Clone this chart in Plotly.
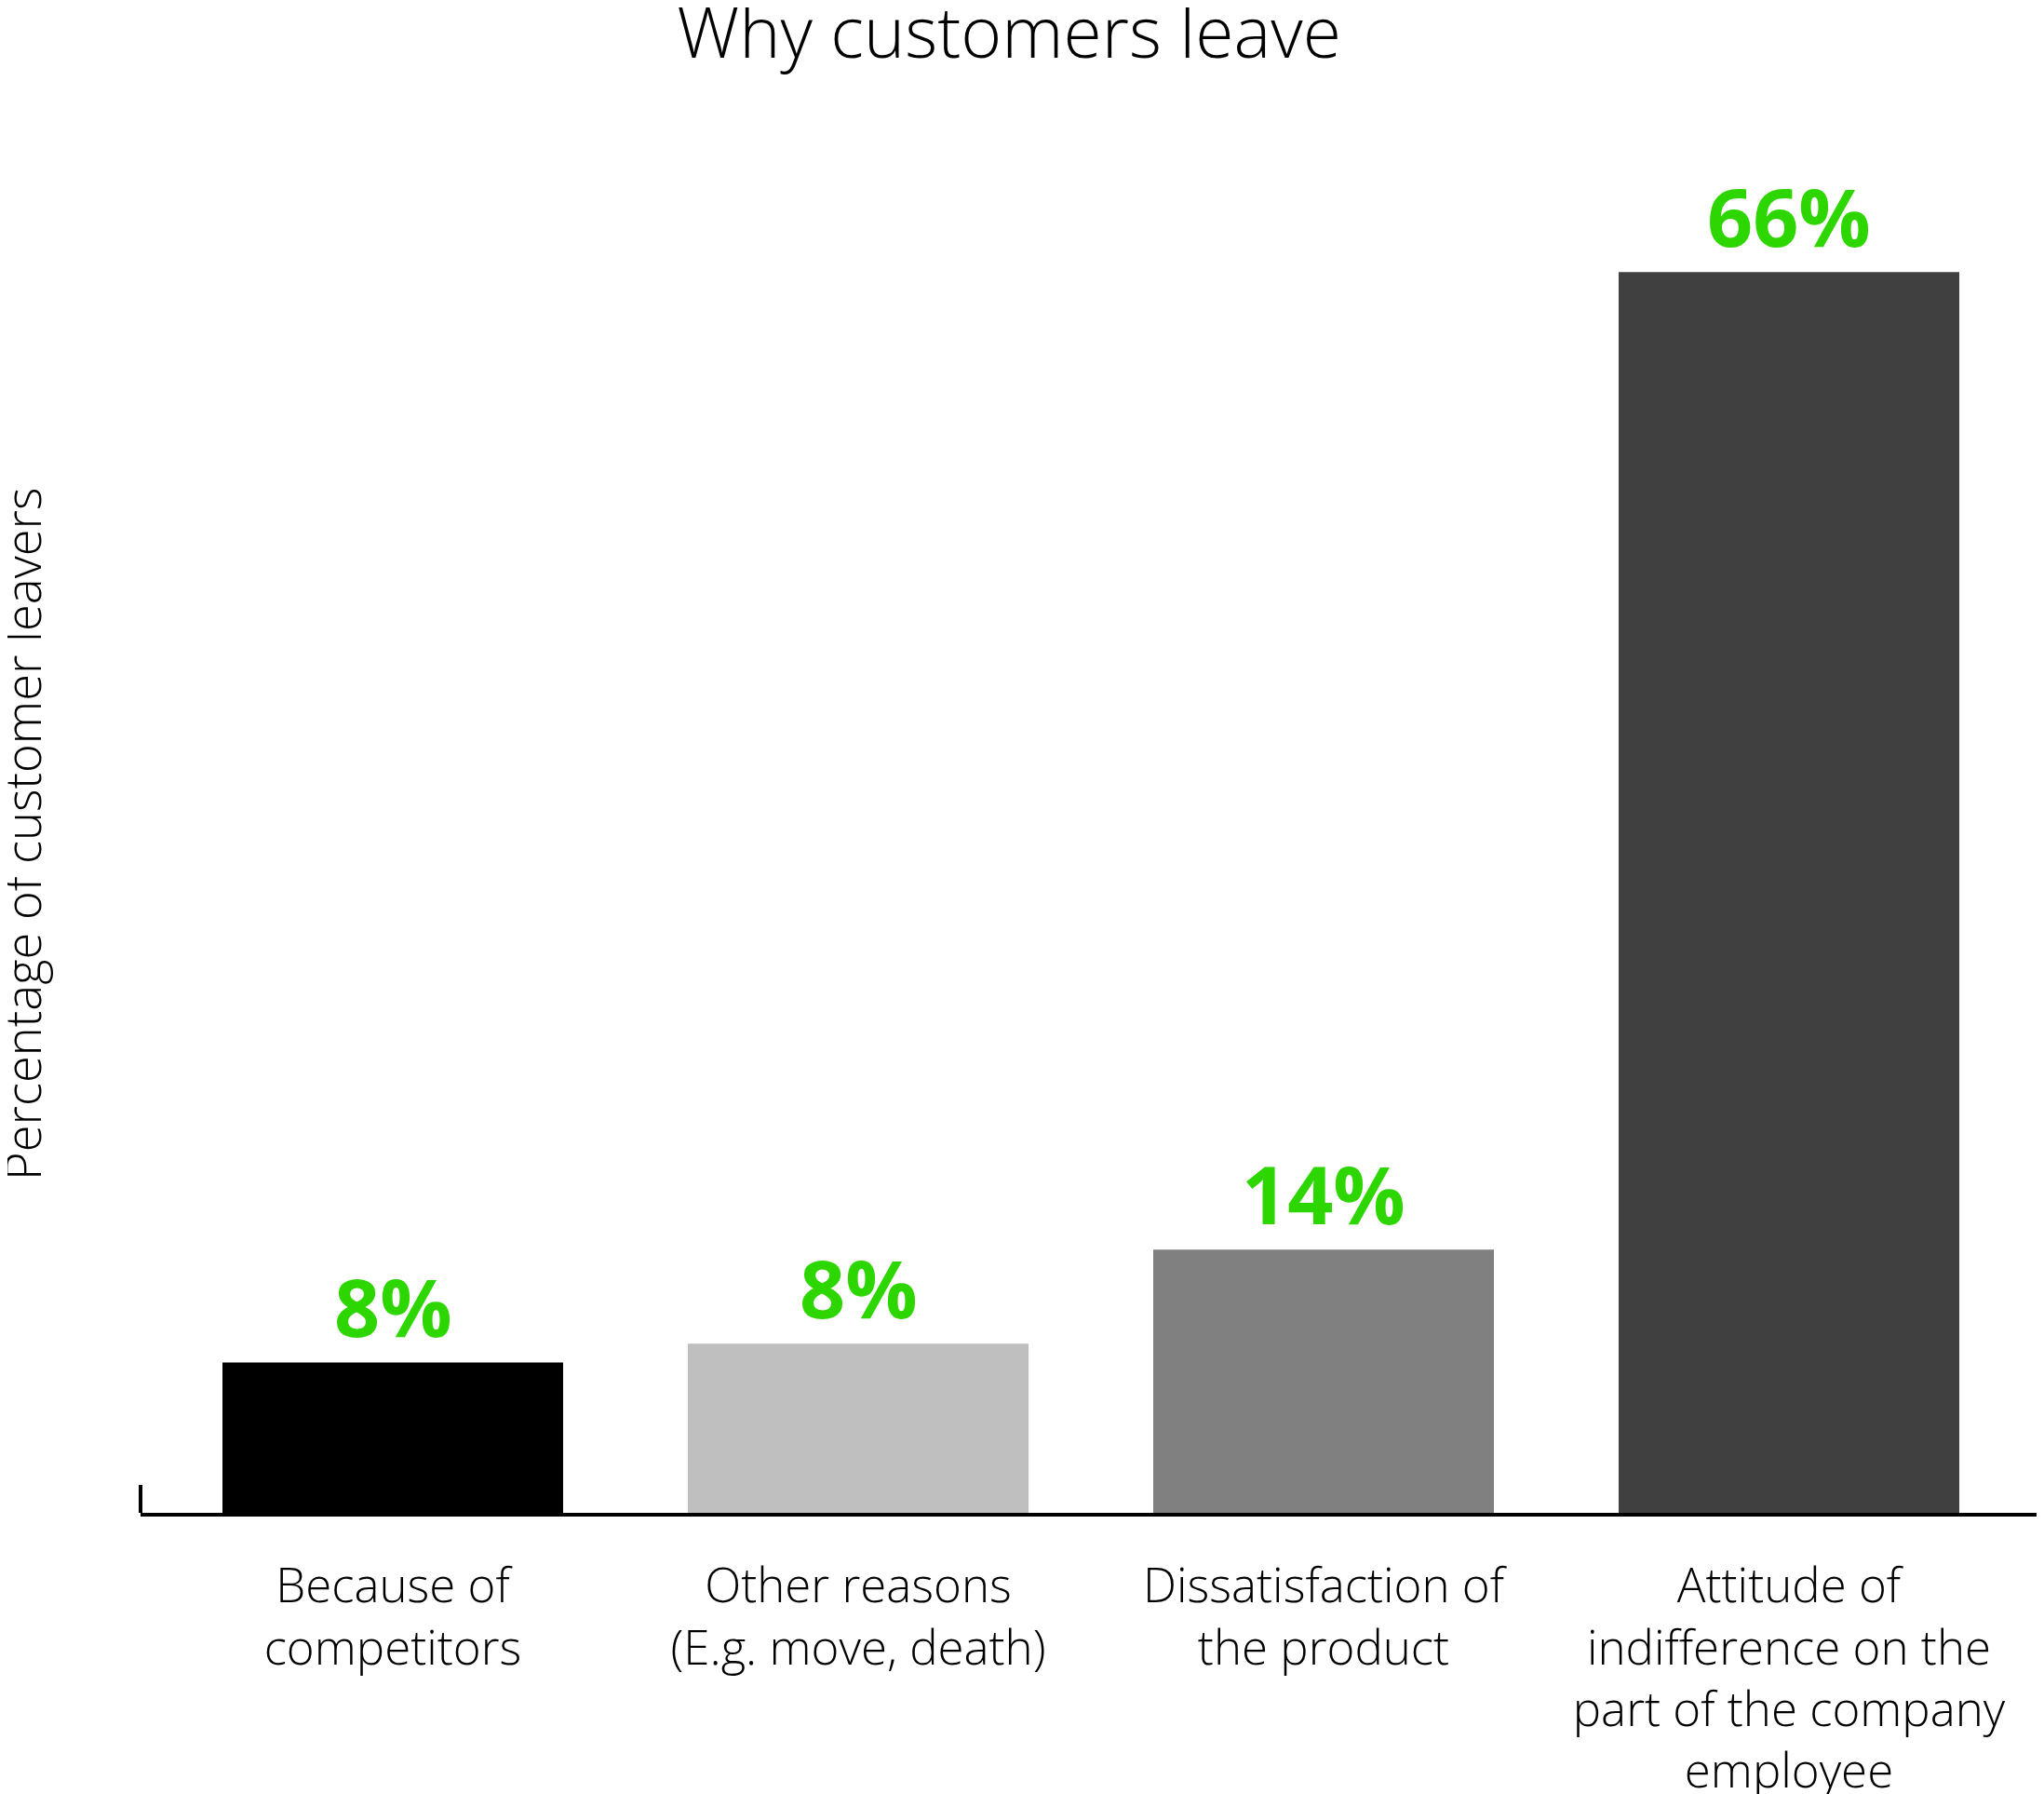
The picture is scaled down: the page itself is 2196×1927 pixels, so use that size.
import plotly.graph_objects as go

categories = [
    "Because of<br>competitors",
    "Other reasons<br>(E.g. move, death)",
    "Dissatisfaction of<br>the product",
    "Attitude of<br>indifference on the<br>part of the company<br>employee",
]
values = [8, 9, 14, 66]
value_labels = ["8%", "8%", "14%", "66%"]
bar_colors = ["#000000", "#bfbfbf", "#808080", "#404040"]

title_text = "Why customers leave"
y_title = "Percentage of customer leavers"

LABEL_FONT = "Open Sans"
GREEN = "#2ED600"

fig = go.Figure()
fig.add_trace(go.Bar(
    x=categories,
    y=values,
    marker=dict(color=bar_colors, line=dict(width=0)),
    hoverinfo="skip",
))

for c, v, t in zip(categories, values, value_labels):
    fig.add_annotation(
        x=c, y=v, xref="x", yref="y", text=t, showarrow=False,
        yanchor="bottom", yshift=0,
        font=dict(family=LABEL_FONT, size=86, color=GREEN, weight=700),
    )

fig.add_annotation(
    x=-0.0627, y=0.5, xref="paper", yref="paper", text=y_title,
    showarrow=False, textangle=-90, xanchor="center", yanchor="middle",
    font=dict(family=LABEL_FONT, size=52.5, color="#000000", weight=300),
)

# end ticks of the baseline
for xd in (0, 1):
    fig.add_shape(
        type="line", xref="x domain", yref="y", x0=xd, x1=xd,
        ysizemode="pixel", yanchor=0, y0=0, y1=30,
        line=dict(color="#000000", width=4),
    )

# the page body adds an 8px margin, so the figure is 8px smaller each way
fig.update_layout(
    width=2188, height=1919,
    margin=dict(l=143, r=3, t=159, b=302, autoexpand=False),
    paper_bgcolor="white", plot_bgcolor="white",
    showlegend=False,
    bargap=0.268,
    title=dict(
        text=title_text, x=0.4918, xref="container", xanchor="center",
        y=0.999, yref="container", yanchor="top",
        font=dict(family=LABEL_FONT, size=75, color="#000000", weight=300),
    ),
    font=dict(family=LABEL_FONT, color="#000000"),
)
fig.update_xaxes(
    range=[-0.542, 3.542], automargin=False,
    showline=True, linecolor="#000000", linewidth=4,
    ticks="", showgrid=False, zeroline=False,
    tickfont=dict(family=LABEL_FONT, size=51, color="#000000", weight=300),
    ticklabelstandoff=31,
    fixedrange=True,
)
fig.update_yaxes(
    range=[0, 72.2], visible=False, showgrid=False, zeroline=False,
    fixedrange=True, automargin=False,
)

fig.write_html("out.html")
